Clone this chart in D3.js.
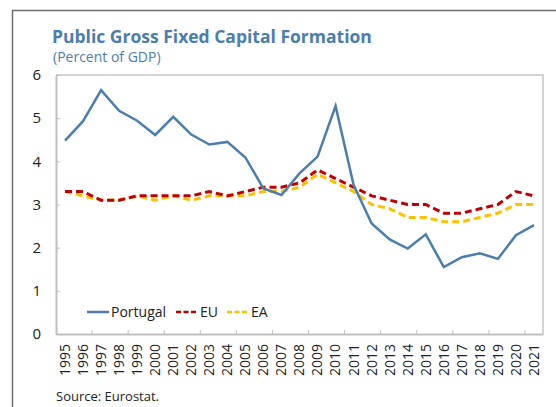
<!DOCTYPE html>
<style>
body { margin: 0; background: #fff; }
svg text { font-family: "Open Sans", "Noto Sans", sans-serif; }
</style>
<svg width="556" height="407"></svg>
<script src="https://d3js.org/d3.v7.min.js"></script>
<script>

// data
var years = ["1995","1996","1997","1998","1999","2000","2001","2002","2003","2004","2005","2006","2007",
             "2008","2009","2010","2011","2012","2013","2014","2015","2016","2017","2018","2019","2020","2021"];
var portugal = [4.48,4.93,5.65,5.17,4.94,4.61,5.03,4.62,4.39,4.45,4.09,3.37,3.22,
                3.72,4.11,5.28,3.45,2.56,2.19,1.98,2.31,1.55,1.78,1.87,1.74,2.29,2.52];
var eu = [3.3,3.3,3.1,3.1,3.2,3.2,3.2,3.2,3.3,3.2,3.3,3.4,3.4,
          3.5,3.8,3.6,3.4,3.2,3.1,3.0,3.0,2.8,2.8,2.9,3.0,3.3,3.2];
var ea = [3.3,3.2,3.1,3.1,3.2,3.1,3.2,3.1,3.2,3.2,3.2,3.3,3.3,
          3.4,3.7,3.5,3.3,3.0,2.9,2.7,2.7,2.6,2.6,2.7,2.8,3.0,3.0];
var yTicks = [0,1,2,3,4,5,6];

var series = [
  {name: "Portugal", values: portugal, color: "#4a7ead", dash: null, width: 2.5},
  {name: "EU", values: eu, color: "#c00000", dash: "7,4", width: 3},
  {name: "EA", values: ea, color: "#ffc000", dash: "7,4", width: 3}
];

var svg = d3.select("svg");
// note: "top" is taken by window.top, so plot edges get a prefix
var plotL = 56, plotR = 543, plotT = 75, plotB = 334;

// outer frame
svg.append("path")
    .attr("d", "M12.5,407V10.5H556")
    .attr("fill", "none")
    .attr("stroke", "#6e6e6e")
    .attr("stroke-width", 1.5);

svg.append("text")
    .attr("x", 52).attr("y", 43)
    .attr("fill", "#4a7ead")
    .attr("font-size", 17.5)
    .attr("font-weight", "bold")
    .text("Public Gross Fixed Capital Formation");

svg.append("text")
    .attr("x", 53).attr("y", 62)
    .attr("fill", "#4a7ead")
    .attr("font-size", 14)
    .text("(Percent of GDP)");

var x = d3.scaleBand().domain(years).range([plotL, plotR]);
var y = d3.scaleLinear().domain([0, 6]).range([plotB, plotT]);

// plot box
svg.append("path")
    .attr("d", "M" + plotL + "," + plotT + "H" + plotR + "V" + plotB)
    .attr("fill", "none")
    .attr("stroke", "#d4d4d4")
    .attr("stroke-width", 2);

// y axis
var yAxis = svg.append("g")
    .attr("transform", "translate(" + plotL + ",0)")
    .call(d3.axisLeft(y).tickValues(yTicks).tickFormat(d3.format("d"))
      .tickSizeInner(-4).tickSizeOuter(0).tickPadding(15));
yAxis.select(".domain").attr("stroke", "#bfbfbf").attr("stroke-width", 2);
yAxis.selectAll(".tick line").attr("stroke", "#bfbfbf");
yAxis.selectAll("text").attr("font-size", 15).attr("fill", "#222")
    .style("font-family", "'Open Sans', sans-serif");

// x axis
var xAxis = svg.append("g")
    .attr("transform", "translate(0," + plotB + ")")
    .call(d3.axisBottom(x).tickSize(0).tickPadding(0));
xAxis.select(".domain").attr("stroke", "#bfbfbf").attr("stroke-width", 2);
xAxis.selectAll("text")
    .attr("font-size", 14)
    .attr("fill", "#222")
    .attr("text-anchor", "end")
    .attr("transform", "rotate(-90)")
    .attr("x", -10)
    .attr("y", 0)
    .attr("dy", "0.35em")
    .style("font-family", "'Open Sans', sans-serif");

// inner ticks every other band boundary
var tickYears = years.filter(function(d, i) { return i % 2 === 0 && i > 0; });
svg.append("g").selectAll("line")
    .data(tickYears)
    .enter().append("line")
    .attr("x1", function(d) { return x(d); })
    .attr("x2", function(d) { return x(d); })
    .attr("y1", plotB)
    .attr("y2", plotB - 4)
    .attr("stroke", "#bfbfbf");

var line = d3.line()
    .x(function(d, i) { return x(years[i]) + x.bandwidth() / 2; })
    .y(function(d) { return y(d); });

// draw EA, EU under Portugal
[series[2], series[1], series[0]].forEach(function(s) {
  svg.append("path")
      .datum(s.values)
      .attr("d", line)
      .attr("fill", "none")
      .attr("stroke", s.color)
      .attr("stroke-width", s.width)
      .attr("stroke-dasharray", s.dash);
});

// legend
var legendX = [87, 176, 227];
var legend = svg.append("g").selectAll("g")
    .data(series)
    .enter().append("g")
    .attr("transform", function(d, i) { return "translate(" + legendX[i] + ",312)"; });
legend.append("line")
    .attr("x1", 0).attr("x2", 22)
    .attr("stroke", function(d) { return d.color; })
    .attr("stroke-width", 2.5)
    .attr("stroke-dasharray", function(d) { return d.dash ? "5,2.5" : null; });
legend.append("text")
    .attr("x", 24)
    .attr("dy", "0.35em")
    .attr("font-size", 14)
    .attr("fill", "#222")
    .text(function(d) { return d.name; });

svg.append("text")
    .attr("x", 56).attr("y", 401)
    .attr("font-size", 13)
    .attr("fill", "#222")
    .text("Source: Eurostat.");

</script>
